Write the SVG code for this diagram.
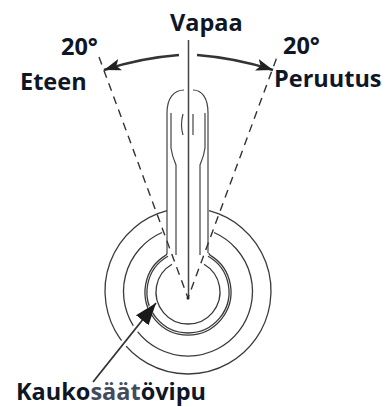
<svg xmlns="http://www.w3.org/2000/svg" width="390" height="407" viewBox="0 0 390 407">
<style>
.t{font-family:"Open Sans","Noto Sans",sans-serif;font-weight:700;fill:#0f1626;font-size:23.500px}
.l{fill:none;stroke:#444;stroke-width:1.200}
.c{fill:none;stroke:#3a3a3a;stroke-width:1.300}
.d{fill:none;stroke:#333;stroke-width:1.400;stroke-dasharray:8 6}
</style>
<defs>
<marker id="a" markerUnits="userSpaceOnUse" markerWidth="20" markerHeight="14" refX="17" refY="7" orient="auto"><path d="M0 1L17 7L0 13L4 7Z" fill="#222"/></marker>
<marker id="b" markerUnits="userSpaceOnUse" markerWidth="24" markerHeight="18" refX="22" refY="9" orient="auto"><path d="M0 1L22 9L0 17Z" fill="#1a1a1a"/></marker>
</defs>
<rect width="390" height="407" fill="#fff"/>
<g id="lever">
<path class="l" d="M184 90C174 90 167 98 167 113V253"/>
<path class="l" d="M193 90C202 90 208 98 208 113V253"/>
<path class="l" d="M171 113V148Q172 156 176 165V255"/>
<path class="l" d="M205 113V148Q204 156 200 165V255"/>
<path class="l" d="M183 114Q180 125 183 135M193 114V135"/>
</g>
<g id="base">
<path class="c" d="M167 210.700A83 83 0 1 0 209 210.700"/>
<path class="c" d="M162 232.500A64.500 64.500 0 1 0 214 232.500"/>
<path class="c" d="M167 253Q167 254.500 166 255.100A43 43 0 1 0 210 255.100Q209 254.500 209 253"/>
<path class="c" d="M168 256.200A41 41 0 1 0 208 256.200"/>
<path class="c" d="M172 264.300A32 32 0 1 0 204 264.300"/>
</g>
<g id="connectors">
<path class="l" style="stroke-width:1.500" d="M188.500 40V298"/>
<path class="d" d="M99 57L188 298L277 57"/>
<circle cx="188" cy="298" r="1.500" fill="#222"/>
<path d="M179 55Q140 58 104 70" fill="none" stroke="#333" stroke-width="2.400" marker-end="url(#a)"/>
<path d="M197 55Q236 58 273 70" fill="none" stroke="#333" stroke-width="2.400" marker-end="url(#a)"/>
<path d="M108 363L153 307" fill="none" stroke="#fff" stroke-width="7"/>
<path d="M93 382L156 303" fill="none" stroke="#333" stroke-width="1.800" marker-end="url(#b)"/>
</g>
<g id="labels">
<text class="t" x="170" y="31">Vapaa</text>
<text class="t" x="61" y="55">20°</text>
<text class="t" x="283" y="54">20°</text>
<text class="t" x="20" y="90">Eteen</text>
<text class="t" x="274" y="87">Peruutus</text>
<text class="t" x="16" y="400">Kauko<tspan fill="#414b5c">säät</tspan>övipu</text>
</g>
</svg>
